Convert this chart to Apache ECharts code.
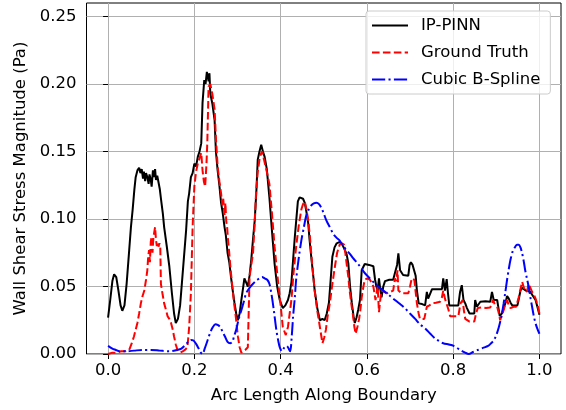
<!DOCTYPE html>
<html>
<head>
<meta charset="utf-8">
<script src="https://cdn.jsdelivr.net/npm/echarts@6/dist/echarts.min.js"></script>
<style>
html,body{margin:0;padding:0;background:#fff;}
#chart{width:566px;height:410px;}
</style>
</head>
<body>
<div id="chart"></div>
<script>
const seriesNames = ['IP-PINN', 'Ground Truth', 'Cubic B-Spline'];
const xTicks = [0.0, 0.2, 0.4, 0.6, 0.8, 1.0];
const yTicks = [0.00, 0.05, 0.10, 0.15, 0.20, 0.25];
const xTitle = 'Arc Length Along Boundary';
const yTitle = 'Wall Shear Stress Magnitude (Pa)';

const pinn = [
[0.000,0.027],[0.005,0.040],[0.010,0.054],[0.014,0.059],[0.019,0.057],[0.024,0.047],[0.029,0.036],[0.033,0.032],
[0.038,0.036],[0.043,0.052],[0.049,0.077],[0.053,0.094],[0.057,0.107],[0.061,0.122],[0.064,0.131],[0.068,0.136],
[0.072,0.138],[0.075,0.134],[0.078,0.137],[0.081,0.130],[0.083,0.135],[0.086,0.128],[0.088,0.134],[0.091,0.131],
[0.094,0.126],[0.096,0.133],[0.099,0.129],[0.101,0.124],[0.104,0.136],[0.106,0.131],[0.109,0.137],[0.111,0.129],
[0.114,0.132],[0.117,0.127],[0.120,0.122],[0.123,0.114],[0.127,0.104],[0.130,0.094],[0.136,0.080],[0.142,0.065],
[0.148,0.045],[0.153,0.030],[0.157,0.023],[0.162,0.026],[0.167,0.036],[0.171,0.052],[0.176,0.072],[0.181,0.092],
[0.185,0.113],[0.188,0.119],[0.190,0.125],[0.192,0.131],[0.196,0.134],[0.200,0.141],[0.204,0.139],[0.208,0.146],
[0.212,0.150],[0.216,0.156],[0.219,0.186],[0.223,0.203],[0.226,0.200],[0.229,0.209],[0.231,0.210],[0.233,0.202],
[0.235,0.208],[0.237,0.193],[0.242,0.185],[0.247,0.173],[0.250,0.150],[0.254,0.136],[0.258,0.125],[0.262,0.112],
[0.266,0.104],[0.270,0.094],[0.273,0.088],[0.277,0.075],[0.281,0.068],[0.285,0.057],[0.289,0.047],[0.293,0.038],
[0.297,0.030],[0.301,0.025],[0.305,0.030],[0.309,0.040],[0.313,0.049],[0.316,0.056],[0.320,0.053],[0.324,0.050],
[0.328,0.058],[0.332,0.070],[0.336,0.085],[0.340,0.099],[0.344,0.122],[0.347,0.144],[0.351,0.150],[0.355,0.155],
[0.359,0.150],[0.363,0.146],[0.368,0.137],[0.374,0.116],[0.379,0.095],[0.386,0.067],[0.392,0.050],[0.398,0.040],
[0.405,0.034],[0.411,0.036],[0.417,0.040],[0.421,0.045],[0.425,0.053],[0.429,0.070],[0.433,0.087],[0.437,0.102],
[0.440,0.113],[0.444,0.116],[0.448,0.1165],[0.452,0.115],[0.456,0.112],[0.460,0.105],[0.464,0.097],[0.467,0.085],
[0.471,0.072],[0.475,0.060],[0.479,0.047],[0.485,0.034],[0.491,0.025],[0.497,0.026],[0.502,0.025],[0.507,0.030],
[0.512,0.038],[0.516,0.055],[0.520,0.072],[0.525,0.079],[0.530,0.082],[0.537,0.083],[0.543,0.081],[0.549,0.077],
[0.553,0.074],[0.557,0.067],[0.561,0.050],[0.565,0.038],[0.569,0.028],[0.572,0.023],[0.576,0.027],[0.580,0.033],
[0.584,0.040],[0.588,0.062],[0.595,0.0667],[0.605,0.066],[0.615,0.065],[0.619,0.055],[0.622,0.050],[0.625,0.047],
[0.628,0.056],[0.631,0.048],[0.634,0.042],[0.638,0.050],[0.642,0.054],[0.652,0.055],[0.661,0.055],[0.665,0.060],
[0.670,0.066],[0.673,0.0745],[0.677,0.062],[0.681,0.060],[0.684,0.0585],[0.696,0.058],[0.699,0.066],[0.702,0.068],
[0.706,0.066],[0.710,0.067],[0.713,0.058],[0.716,0.047],[0.720,0.0375],[0.728,0.037],[0.735,0.036],[0.739,0.046],
[0.742,0.041],[0.745,0.040],[0.751,0.048],[0.763,0.048],[0.774,0.048],[0.777,0.056],[0.781,0.047],[0.785,0.0555],
[0.788,0.045],[0.791,0.036],[0.801,0.036],[0.812,0.036],[0.816,0.046],[0.820,0.051],[0.824,0.040],[0.828,0.0375],
[0.832,0.034],[0.838,0.030],[0.849,0.030],[0.851,0.040],[0.855,0.035],[0.863,0.0387],[0.875,0.039],[0.886,0.0387],
[0.890,0.046],[0.894,0.040],[0.902,0.040],[0.908,0.028],[0.913,0.030],[0.917,0.034],[0.921,0.0375],[0.925,0.043],
[0.929,0.041],[0.933,0.038],[0.937,0.036],[0.949,0.036],[0.953,0.042],[0.956,0.047],[0.960,0.049],[0.964,0.050],
[0.968,0.047],[0.972,0.048],[0.979,0.046],[0.985,0.043],[0.991,0.040],[0.996,0.034],[1.000,0.029]
];

const truth = [
[0.000,0.000],[0.010,0.001],[0.020,0.001],[0.030,0.002],[0.039,0.002],[0.049,0.003],[0.055,0.008],[0.060,0.013],
[0.064,0.018],[0.068,0.023],[0.072,0.030],[0.076,0.0375],[0.080,0.043],[0.084,0.047],[0.088,0.055],[0.091,0.062],
[0.093,0.072],[0.095,0.077],[0.097,0.068],[0.099,0.083],[0.101,0.087],[0.103,0.075],[0.105,0.086],[0.107,0.090],
[0.109,0.094],[0.111,0.085],[0.113,0.080],[0.115,0.083],[0.117,0.0795],[0.119,0.082],[0.121,0.080],[0.1225,0.052],
[0.126,0.045],[0.130,0.0375],[0.134,0.033],[0.138,0.028],[0.142,0.026],[0.146,0.023],[0.150,0.018],[0.153,0.013],
[0.157,0.007],[0.161,0.003],[0.167,0.001],[0.173,0.002],[0.178,0.003],[0.184,0.005],[0.188,0.020],[0.192,0.045],
[0.196,0.094],[0.200,0.124],[0.204,0.135],[0.208,0.141],[0.212,0.145],[0.216,0.149],[0.219,0.136],[0.222,0.128],
[0.225,0.124],[0.228,0.140],[0.230,0.156],[0.233,0.198],[0.237,0.200],[0.242,0.192],[0.247,0.181],[0.250,0.160],
[0.254,0.139],[0.258,0.128],[0.262,0.119],[0.265,0.110],[0.267,0.115],[0.270,0.103],[0.272,0.112],[0.274,0.098],
[0.276,0.094],[0.278,0.085],[0.281,0.0745],[0.284,0.063],[0.288,0.050],[0.292,0.038],[0.297,0.025],[0.301,0.013],
[0.305,0.005],[0.309,0.001],[0.312,0.000],[0.318,0.003],[0.324,0.005],[0.328,0.057],[0.332,0.066],[0.336,0.0745],
[0.340,0.097],[0.343,0.119],[0.347,0.135],[0.351,0.144],[0.354,0.148],[0.357,0.150],[0.360,0.146],[0.363,0.147],
[0.368,0.135],[0.374,0.126],[0.380,0.104],[0.386,0.0795],[0.392,0.060],[0.398,0.042],[0.402,0.030],[0.405,0.020],
[0.412,0.014],[0.417,0.020],[0.421,0.030],[0.425,0.040],[0.430,0.060],[0.436,0.0795],[0.442,0.095],[0.448,0.107],
[0.452,0.111],[0.456,0.113],[0.460,0.107],[0.464,0.099],[0.468,0.087],[0.471,0.0745],[0.475,0.060],[0.479,0.047],
[0.485,0.032],[0.491,0.020],[0.497,0.008],[0.501,0.012],[0.505,0.018],[0.509,0.028],[0.514,0.0375],[0.520,0.052],
[0.526,0.065],[0.531,0.075],[0.537,0.081],[0.542,0.082],[0.547,0.081],[0.550,0.075],[0.553,0.067],[0.557,0.057],
[0.560,0.047],[0.564,0.037],[0.568,0.028],[0.571,0.020],[0.574,0.015],[0.578,0.020],[0.582,0.026],[0.585,0.033],
[0.588,0.042],[0.592,0.050],[0.595,0.055],[0.601,0.056],[0.607,0.055],[0.611,0.053],[0.615,0.050],[0.620,0.040],
[0.623,0.046],[0.625,0.050],[0.628,0.031],[0.631,0.040],[0.634,0.047],[0.640,0.046],[0.646,0.045],[0.654,0.046],
[0.661,0.047],[0.665,0.056],[0.668,0.054],[0.671,0.062],[0.673,0.047],[0.677,0.046],[0.681,0.045],[0.690,0.045],
[0.696,0.045],[0.700,0.050],[0.704,0.056],[0.710,0.055],[0.713,0.046],[0.716,0.0375],[0.720,0.030],[0.723,0.026],
[0.733,0.026],[0.739,0.035],[0.745,0.036],[0.751,0.0375],[0.760,0.038],[0.770,0.0387],[0.774,0.042],[0.777,0.047],
[0.781,0.041],[0.785,0.040],[0.789,0.033],[0.793,0.028],[0.801,0.028],[0.812,0.028],[0.817,0.0375],[0.822,0.040],
[0.825,0.032],[0.828,0.026],[0.838,0.024],[0.849,0.024],[0.853,0.030],[0.857,0.034],[0.866,0.0345],[0.876,0.034],
[0.886,0.0345],[0.893,0.040],[0.897,0.036],[0.902,0.035],[0.906,0.030],[0.909,0.025],[0.913,0.029],[0.917,0.0325],
[0.921,0.037],[0.925,0.040],[0.929,0.036],[0.933,0.034],[0.940,0.035],[0.946,0.035],[0.952,0.042],[0.956,0.048],
[0.960,0.0535],[0.964,0.049],[0.967,0.050],[0.971,0.046],[0.975,0.052],[0.979,0.049],[0.983,0.046],[0.987,0.044],
[0.991,0.041],[0.996,0.036],[1.000,0.030]
];

const spline = [
[0.000,0.006],[0.010,0.004],[0.018,0.003],[0.026,0.002],[0.040,0.002],[0.060,0.0025],[0.080,0.003],[0.100,0.003],
[0.120,0.0025],[0.142,0.002],[0.160,0.003],[0.170,0.004],[0.179,0.0067],[0.186,0.009],[0.192,0.0104],[0.198,0.010],
[0.204,0.0075],[0.210,0.004],[0.215,0.001],[0.219,0.000],[0.224,0.004],[0.231,0.0104],[0.237,0.016],[0.243,0.020],
[0.249,0.022],[0.254,0.0215],[0.260,0.020],[0.266,0.016],[0.271,0.013],[0.277,0.009],[0.283,0.008],[0.288,0.009],
[0.292,0.013],[0.297,0.018],[0.303,0.026],[0.309,0.0325],[0.315,0.039],[0.320,0.045],[0.328,0.049],[0.336,0.052],
[0.344,0.0545],[0.351,0.056],[0.357,0.057],[0.363,0.056],[0.369,0.055],[0.374,0.052],[0.379,0.044],[0.384,0.033],
[0.390,0.018],[0.395,0.009],[0.398,0.005],[0.403,0.002],[0.409,0.005],[0.414,0.006],[0.417,0.005],[0.422,0.002],
[0.426,0.014],[0.429,0.028],[0.433,0.042],[0.436,0.055],[0.442,0.071],[0.448,0.084],[0.454,0.094],[0.459,0.102],
[0.465,0.107],[0.471,0.110],[0.477,0.1115],[0.483,0.112],[0.489,0.111],[0.495,0.108],[0.500,0.104],[0.506,0.099],
[0.514,0.094],[0.522,0.089],[0.530,0.086],[0.537,0.084],[0.545,0.080],[0.553,0.077],[0.561,0.074],[0.568,0.071],
[0.576,0.068],[0.584,0.065],[0.595,0.060],[0.607,0.056],[0.619,0.052],[0.630,0.049],[0.642,0.046],[0.654,0.043],
[0.665,0.040],[0.677,0.037],[0.688,0.034],[0.700,0.030],[0.712,0.026],[0.723,0.022],[0.735,0.019],[0.747,0.015],
[0.758,0.0116],[0.768,0.0095],[0.777,0.008],[0.790,0.007],[0.801,0.006],[0.816,0.003],[0.828,0.001],[0.836,0.000],
[0.846,0.0015],[0.857,0.003],[0.869,0.0045],[0.881,0.006],[0.888,0.008],[0.894,0.010],[0.900,0.014],[0.906,0.020],
[0.912,0.028],[0.917,0.0375],[0.921,0.046],[0.925,0.055],[0.929,0.063],[0.933,0.070],[0.938,0.076],[0.944,0.0795],
[0.948,0.081],[0.952,0.081],[0.956,0.079],[0.960,0.0745],[0.964,0.068],[0.967,0.062],[0.971,0.056],[0.975,0.050],
[0.979,0.042],[0.983,0.035],[0.987,0.028],[0.991,0.0227],[0.996,0.018],[1.000,0.015]
];

const FONT = 'DejaVu Sans';
const chart = echarts.init(document.getElementById('chart'), null, {renderer: 'canvas'});
chart.setOption({
  animation: false,
  backgroundColor: '#ffffff',
  textStyle: {fontFamily: FONT},
  grid: {left: 86.5, right: 5, top: 3, bottom: 56, show: true, borderColor: '#000', borderWidth: 1, containLabel: false},
  legend: {
    orient: 'vertical', left: 366, top: 11,
    padding: [6, 10, 6, 5],
    itemWidth: 36, itemHeight: 16, itemGap: 10,
    backgroundColor: 'rgba(255,255,255,0.8)',
    borderColor: '#cccccc', borderWidth: 1, borderRadius: 3,
    itemStyle: {opacity: 0},
    textStyle: {fontFamily: FONT, fontSize: 16.5, color: '#000', padding: [0,0,0,8], lineHeight: 16},
    data: seriesNames
  },
  xAxis: {
    type: 'value', min: -0.05, max: 1.05,
    name: xTitle, nameLocation: 'middle', nameGap: 33,
    nameTextStyle: {fontFamily: FONT, fontSize: 16.5, color: '#000'},
    axisLine: {show: false},
    axisTick: {show: true, inside: false, length: 5, lineStyle: {color: '#000', width: 1}, customValues: xTicks},
    axisLabel: {fontFamily: FONT, fontSize: 16.5, color: '#000', margin: 8, customValues: xTicks,
      formatter: v => Number(v).toFixed(1)},
    splitLine: {show: true, lineStyle: {color: '#b0b0b0', width: 1}}
  },
  yAxis: {
    type: 'value', min: 0, max: 0.26,
    name: yTitle, nameLocation: 'middle', nameGap: 51,
    nameTextStyle: {fontFamily: FONT, fontSize: 16.5, color: '#000'},
    axisLine: {show: false},
    axisTick: {show: true, inside: false, length: 5, lineStyle: {color: '#000', width: 1}, customValues: yTicks},
    axisLabel: {fontFamily: FONT, fontSize: 16.5, color: '#000', margin: 10, customValues: yTicks,
      formatter: v => Number(v).toFixed(2)},
    splitLine: {show: true, lineStyle: {color: '#b0b0b0', width: 1}}
  },
  series: [
    {name: seriesNames[0], type: 'line', data: pinn, showSymbol: false, symbol: 'none',
      lineStyle: {color: '#000000', width: 2}, itemStyle: {color: '#000000'}, z: 2},
    {name: seriesNames[1], type: 'line', data: truth, showSymbol: false, symbol: 'none',
      lineStyle: {color: '#ff0000', width: 2, type: [7.6, 3.3]}, itemStyle: {color: '#ff0000'}, z: 3},
    {name: seriesNames[2], type: 'line', data: spline, showSymbol: false, symbol: 'none', smooth: 0.3,
      lineStyle: {color: '#0000ff', width: 2, type: [13.2, 3.3, 2.1, 3.3]}, itemStyle: {color: '#0000ff'}, z: 4}
  ]
});
</script>
</body>
</html>
